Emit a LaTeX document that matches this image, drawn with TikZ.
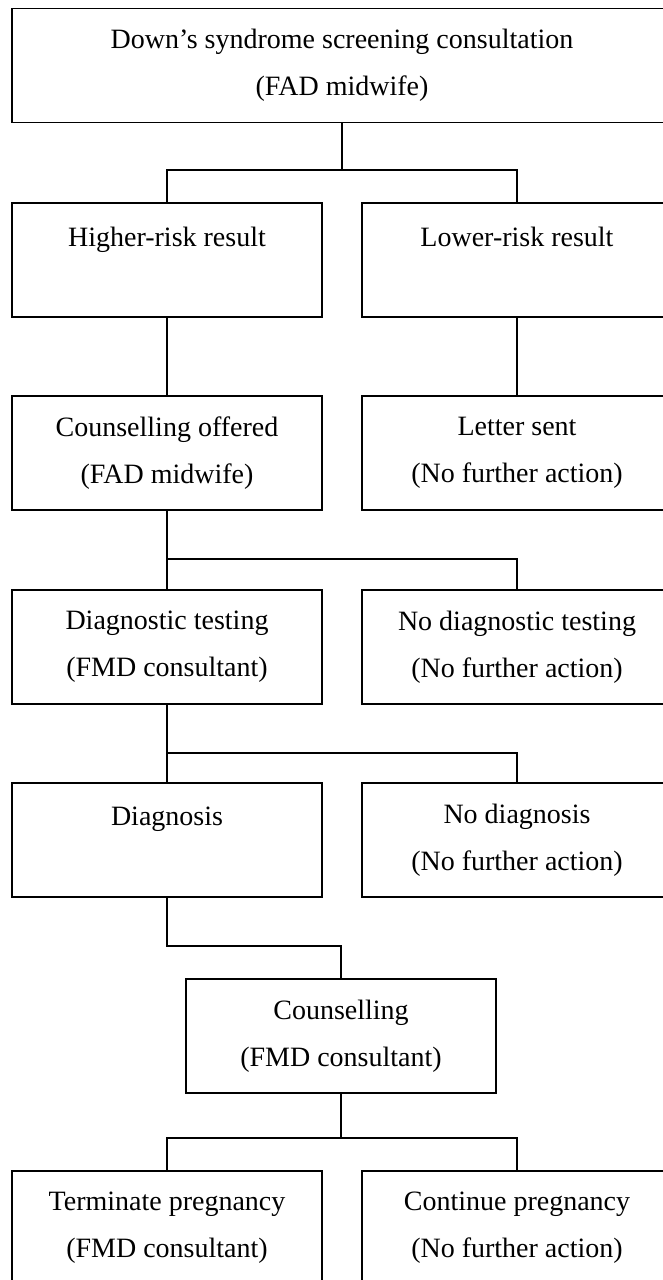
\documentclass[tikz,border=0pt]{standalone}
\usepackage{fontspec}
\setmainfont{Liberation Serif}
\begin{document}
\begin{tikzpicture}[x=1pt,y=-1pt,
  box/.style={draw, line width=1.4pt, minimum width=310pt, minimum height=114pt,
    align=center, inner sep=0pt, font=\fontsize{28}{47}\selectfont},
  conn/.style={line width=1.4pt}]
\useasboundingbox (0,0) rectangle (663,1280);
\fill[white] (0,0) rectangle (663,1280);
\clip (0,0) rectangle (663,1280);

\node[box, minimum width=660pt] (top) at (342,65.5) {Down’s syndrome screening consultation\\(FAD midwife)};
\node[box] (hi) at (167,260) {Higher-risk result\\\mbox{}};
\node[box] (lo) at (517,260) {Lower-risk result\\\mbox{}};
\node[box] (co) at (167,453) {Counselling offered\\(FAD midwife)};
\node[box] (ls) at (517,453) {Letter sent\\(No further action)};
\node[box] (dt) at (167,647) {Diagnostic testing\\(FMD consultant)};
\node[box] (ndt) at (517,647) {No diagnostic testing\\(No further action)};
\node[box] (dg) at (167,840) {Diagnosis\\\mbox{}};
\node[box] (ndg) at (517,840) {No diagnosis\\(No further action)};
\node[box] (cs) at (341,1036) {Counselling\\(FMD consultant)};
\node[box] (tp) at (167,1228) {Terminate pregnancy\\(FMD consultant)};
\node[box] (cp) at (517,1228) {Continue pregnancy\\(No further action)};

\coordinate (j1) at (342,170);
\coordinate (j2) at (167,559);
\coordinate (j3) at (167,753);
\coordinate (j4) at (341,946);
\coordinate (j5) at (341,1138);

\draw[conn] (top.south) -- (j1);
\draw[conn] (hi.north) |- (j1);
\draw[conn] (lo.north) |- (j1);
\draw[conn] (hi.south) -- (co.north);
\draw[conn] (lo.south) -- (ls.north);
\draw[conn] (co.south) -- (dt.north);
\draw[conn] (ndt.north) |- (j2);
\draw[conn] (dt.south) -- (dg.north);
\draw[conn] (ndg.north) |- (j3);
\draw[conn] (dg.south) |- (j4) -- (cs.north);
\draw[conn] (cs.south) -- (j5);
\draw[conn] (tp.north) |- (j5);
\draw[conn] (cp.north) |- (j5);
\end{tikzpicture}
\end{document}
